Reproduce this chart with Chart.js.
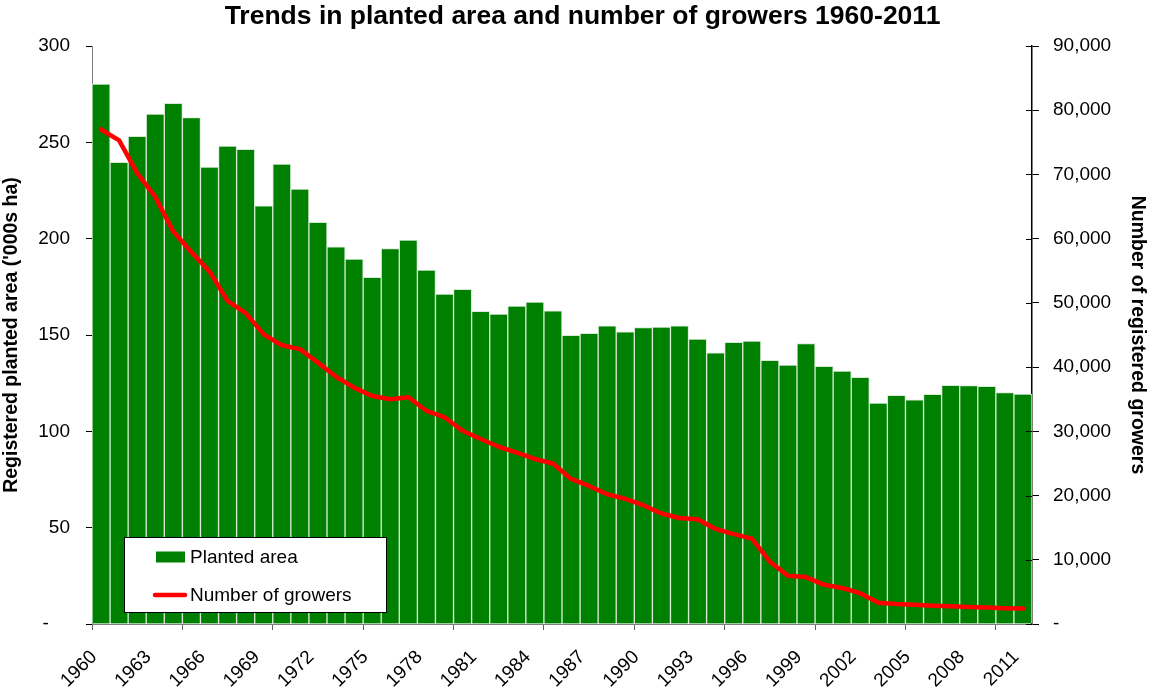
<!DOCTYPE html>
<html>
<head>
<meta charset="utf-8">
<title>Planted area and growers 1960-2011</title>
<script src="https://cdn.jsdelivr.net/npm/chart.js@4.4.1/dist/chart.umd.min.js"></script>
<style>
  html, body { margin: 0; padding: 0; background: #ffffff; }
  #wrap { width: 1149px; height: 691px; }
</style>
</head>
<body>
<div id="wrap"><canvas id="chart" width="1149" height="691"></canvas></div>
<script>
// Years on the category axis
const years = [
  1960, 1961, 1962, 1963, 1964, 1965, 1966, 1967, 1968, 1969,
  1970, 1971, 1972, 1973, 1974, 1975, 1976, 1977, 1978, 1979,
  1980, 1981, 1982, 1983, 1984, 1985, 1986, 1987, 1988, 1989,
  1990, 1991, 1992, 1993, 1994, 1995, 1996, 1997, 1998, 1999,
  2000, 2001, 2002, 2003, 2004, 2005, 2006, 2007, 2008, 2009,
  2010, 2011
];

// Registered planted area, thousand hectares
const plantedArea = [
  280.3, 239.6, 253.1, 264.7, 270.2, 262.8, 237.2, 248.1, 246.4, 217.1,
  238.7, 225.8, 208.5, 195.8, 189.4, 179.9, 194.8, 199.3, 183.7, 171.3,
  173.7, 162.3, 160.9, 165.0, 167.1, 162.5, 149.8, 150.9, 154.8, 151.6,
  153.8, 154.1, 154.7, 147.9, 140.8, 146.2, 146.9, 136.9, 134.4, 145.5,
  133.7, 131.3, 128.0, 114.7, 118.7, 116.4, 119.2, 123.9, 123.7, 123.4,
  120.1, 119.4
];

// Number of registered growers
const growers = [
  77000, 75300, 70200, 66500, 61100, 57900, 54900, 50300, 48400, 45100,
  43400, 42800, 40700, 38500, 36800, 35500, 35000, 35300, 33200, 32200,
  30100, 28800, 27600, 26700, 25700, 25000, 22600, 21500, 20200, 19500,
  18500, 17200, 16500, 16300, 14800, 14000, 13300, 9700, 7500, 7300,
  6100, 5600, 4800, 3300, 3100, 3000, 2850, 2750, 2650, 2550,
  2450, 2400
];

// Axis ranges and tick steps
const areaTicks = [0, 50, 100, 150, 200, 250, 300];
const growerTicks = [0, 10000, 20000, 30000, 40000, 50000, 60000, 70000, 80000, 90000];

const FONT = '"Liberation Sans", Arial, Helvetica, sans-serif';
const GREEN = '#008000';
const RED = '#ff0000';

// Boxed legend drawn inside the lower-left part of the plot
const insetLegend = {
  id: 'insetLegend',
  afterDraw(chart, args, opts) {
    const { ctx, chartArea } = chart;
    const x = chartArea.left + opts.dx;
    const y = chartArea.bottom - opts.dy;
    ctx.save();
    ctx.fillStyle = '#ffffff';
    ctx.fillRect(x, y, opts.width, opts.height);
    ctx.strokeStyle = '#000000';
    ctx.lineWidth = 1;
    ctx.strokeRect(x + 0.5, y + 0.5, opts.width, opts.height);
    ctx.font = opts.fontSize + 'px ' + FONT;
    ctx.textBaseline = 'middle';
    ctx.textAlign = 'left';
    const items = chart.data.datasets.slice().sort((a, b) => b.order - a.order);
    items.forEach((ds, i) => {
      const cy = y + opts.firstRow + i * opts.rowGap;
      if (ds.type === 'bar') {
        ctx.fillStyle = ds.backgroundColor;
        ctx.fillRect(x + 32, cy - 5.5, 29, 11);
      } else {
        ctx.strokeStyle = ds.borderColor;
        ctx.lineWidth = 4.5;
        ctx.lineCap = 'round';
        ctx.beginPath();
        ctx.moveTo(x + 31, cy);
        ctx.lineTo(x + 61, cy);
        ctx.stroke();
      }
      ctx.fillStyle = '#000000';
      ctx.fillText(ds.label, x + 66, cy + 1);
    });
    ctx.restore();
  }
};

// Short inner tick marks on the right-hand axis, and title centring over the plot
const axisExtras = {
  id: 'axisExtras',
  afterLayout(chart, args, opts) {
    if (chart.titleBlock) {
      chart.titleBlock.left = opts.titleShift * 2;
    }
  },
  afterDraw(chart) {
    const s = chart.scales.y2;
    const { ctx } = chart;
    ctx.save();
    ctx.strokeStyle = '#000000';
    ctx.lineWidth = 1;
    s.ticks.forEach(t => {
      const py = Math.round(s.getPixelForValue(t.value)) + 0.5;
      ctx.beginPath();
      ctx.moveTo(s.left - 6, py);
      ctx.lineTo(s.left, py);
      ctx.stroke();
    });
    ctx.restore();
  }
};

const ctx = document.getElementById('chart').getContext('2d');
new Chart(ctx, {
  data: {
    labels: years,
    datasets: [
      {
        type: 'line',
        label: 'Number of growers',
        data: growers,
        yAxisID: 'y2',
        borderColor: RED,
        backgroundColor: RED,
        borderWidth: 4.5,
        pointRadius: 0,
        tension: 0,
        borderJoinStyle: 'round',
        borderCapStyle: 'round',
        order: 1
      },
      {
        type: 'bar',
        label: 'Planted area',
        data: plantedArea,
        yAxisID: 'y',
        backgroundColor: GREEN,
        borderColor: '#d6ead6',
        borderWidth: 1,
        barPercentage: 1,
        categoryPercentage: 1,
        order: 2
      }
    ]
  },
  options: {
    responsive: false,
    animation: false,
    devicePixelRatio: 1,
    layout: { padding: 0 },
    plugins: {
      legend: { display: false },
      tooltip: { enabled: false },
      title: {
        display: true,
        text: 'Trends in planted area and number of growers 1960-2011',
        color: '#000000',
        font: { family: FONT, size: 26.5, weight: 'bold', lineHeight: 1.2 },
        padding: { top: 1.2, bottom: 13 }
      },
      insetLegend: { dx: 32, dy: 87, width: 262, height: 75, firstRow: 20, rowGap: 38, fontSize: 19 },
      axisExtras: { titleShift: 8 }
    },
    scales: {
      x: {
        type: 'category',
        offset: true,
        afterFit(scale) { scale.height = 67; },
        border: { display: true, color: '#808080', width: 1 },
        grid: {
          offset: true,
          drawOnChartArea: false,
          drawTicks: true,
          tickLength: 6,
          color: c => (c.index !== undefined && c.index % 5 === 0) ? '#808080' : 'rgba(0,0,0,0)',
          tickColor: c => (c.index !== undefined && c.index % 5 === 0) ? '#606060' : 'rgba(0,0,0,0)'
        },
        ticks: {
          autoSkip: false,
          minRotation: 45,
          maxRotation: 45,
          padding: 16,
          labelOffset: -7,
          color: '#000000',
          font: { family: FONT, size: 19 },
          callback(value, index) { return index % 3 === 0 ? String(years[index]) : ''; }
        }
      },
      y: {
        type: 'linear',
        position: 'left',
        min: areaTicks[0],
        max: areaTicks[areaTicks.length - 1],
        afterFit(scale) { scale.width = 92; },
        afterBuildTicks(scale) { scale.ticks = areaTicks.map(v => ({ value: v })); },
        border: { display: true, color: '#808080', width: 1 },
        grid: { drawOnChartArea: false, drawTicks: true, tickLength: 6, tickColor: '#000000' },
        ticks: {
          padding: 16,
          color: '#000000',
          font: { family: FONT, size: 19 },
          callback(v) { return v === 0 ? '-    ' : String(v); }
        },
        title: {
          display: true,
          text: "Registered planted area ('000s ha)",
          color: '#000000',
          font: { family: FONT, size: 19.5, weight: 'bold', lineHeight: 1.2 },
          padding: { top: 0, bottom: 0 }
        }
      },
      y2: {
        type: 'linear',
        position: 'right',
        min: growerTicks[0],
        max: growerTicks[growerTicks.length - 1],
        afterFit(scale) { scale.width = 117; },
        afterBuildTicks(scale) { scale.ticks = growerTicks.map(v => ({ value: v })); },
        border: { display: true, color: '#000000', width: 1.5 },
        grid: { drawOnChartArea: false, drawTicks: true, tickLength: 7, tickColor: '#000000' },
        ticks: {
          padding: 14,
          color: '#000000',
          font: { family: FONT, size: 19 },
          callback(v) { return v === 0 ? '-' : v.toLocaleString('en-US'); }
        },
        title: {
          display: true,
          text: 'Number of registered growers',
          color: '#000000',
          font: { family: FONT, size: 19.5, weight: 'bold', lineHeight: 1.2 },
          padding: { top: 0, bottom: 0 }
        }
      }
    }
  },
  plugins: [insetLegend, axisExtras]
});
</script>
</body>
</html>
